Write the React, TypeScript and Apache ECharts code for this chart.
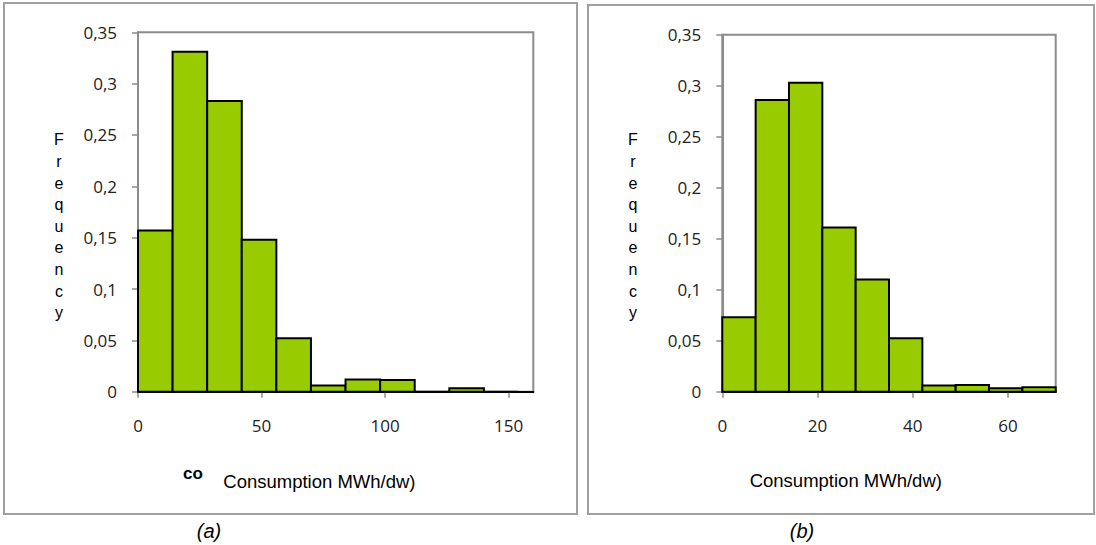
import React, { useEffect, useRef } from "react";
import * as echarts from "echarts";

// Histogram (a): bins of width 14, 0..154
const binEdgesA = [0, 14, 28, 42, 56, 70, 84, 98, 112, 126, 140, 154];
const freqA = [0.157, 0.331, 0.283, 0.148, 0.052, 0.006, 0.012, 0.0115, 0, 0.0034, 0];
const xTicksA = { min: 0, max: 160, interval: 50 };

// Histogram (b): bins of width 7, 0..70
const binEdgesB = [0, 7, 14, 21, 28, 35, 42, 49, 56, 63, 70];
const freqB = [0.073, 0.286, 0.303, 0.161, 0.11, 0.0525, 0.006, 0.0065, 0.0034, 0.0044];
const xTicksB = { min: 0, max: 70, interval: 20 };

const yTicks = { min: 0, max: 0.35, interval: 0.05 };
const yTitle = "Frequency";
const xTitle = "Consumption MWh/dw)";
const panelLabels = ["(a)", "(b)"];

const toBins = (edges: number[], vals: number[]) =>
  vals.map((v, i) => [edges[i], edges[i + 1], v]);

const tickFont = "'Open Sans', sans-serif";
const arial = "'Liberation Sans', Arial, sans-serif";

function makeAxes(gridIndex: number, xt: { min: number; max: number; interval: number }) {
  const x = {
    type: "value",
    gridIndex,
    min: xt.min,
    max: xt.max,
    interval: xt.interval,
    axisLine: { show: true, lineStyle: { color: "#000", width: 2 } },
    axisTick: { show: true, length: 6, lineStyle: { color: "#8c8c8c", width: 1.5 } },
    axisLabel: {
      show: true,
      showMaxLabel: false,
      margin: 25,
      color: "#222",
      fontFamily: tickFont,
      fontSize: 17,
    },
    splitLine: { show: false },
  };
  const y = {
    type: "value",
    gridIndex,
    min: yTicks.min,
    max: yTicks.max,
    interval: yTicks.interval,
    axisLine: { show: true, lineStyle: { color: "#8c8c8c", width: 2 } },
    axisTick: { show: true, length: 6, lineStyle: { color: "#8c8c8c", width: 1.5 } },
    axisLabel: {
      show: true,
      margin: 21,
      color: "#222",
      fontFamily: tickFont,
      fontSize: 17,
      formatter: (v: number) => (v === 0 ? "0" : String(+v.toFixed(2)).replace(".", ",")),
    },
    splitLine: { show: false },
  };
  return { x, y };
}

const renderBin = (params: any, api: any) => {
  const x0 = api.value(0);
  const x1 = api.value(1);
  const v = api.value(2);
  const p0 = api.coord([x0, v]);
  const p1 = api.coord([x1, 0]);
  return {
    type: "rect",
    shape: { x: p0[0], y: p0[1], width: p1[0] - p0[0], height: p1[1] - p0[1] },
    style: { fill: "#99cc00", stroke: "#000", lineWidth: 2 },
  };
};

export default function App() {
  const ref = useRef<HTMLDivElement>(null);

  useEffect(() => {
    if (!ref.current) return;
    const chart = echarts.init(ref.current, undefined, { renderer: "svg" });
    const a = makeAxes(0, xTicksA);
    const b = makeAxes(1, xTicksB);
    const yLetters = yTitle.split("").join("\n");

    const textStyle = (txt: string, font: string, extra: any = {}) => ({
      text: txt,
      font,
      fill: "#000",
      ...extra,
    });

    chart.setOption({
      animation: false,
      backgroundColor: "#fff",
      grid: [
        {
          left: 138,
          top: 32.3,
          width: 395.3,
          height: 359.4,
          show: true,
          borderColor: "#8c8c8c",
          borderWidth: 2,
          backgroundColor: "transparent",
          containLabel: false,
          outerBoundsMode: "none",
        },
        {
          left: 722.3,
          top: 34.8,
          width: 333.4,
          height: 356.9,
          show: true,
          borderColor: "#8c8c8c",
          borderWidth: 2,
          backgroundColor: "transparent",
          containLabel: false,
          outerBoundsMode: "none",
        },
      ],
      xAxis: [a.x, b.x],
      yAxis: [a.y, b.y],
      series: [
        {
          type: "custom",
          xAxisIndex: 0,
          yAxisIndex: 0,
          data: toBins(binEdgesA, freqA),
          encode: { x: [0, 1], y: 2 },
          renderItem: renderBin,
          z: 5,
        },
        {
          type: "custom",
          xAxisIndex: 1,
          yAxisIndex: 1,
          data: toBins(binEdgesB, freqB),
          encode: { x: [0, 1], y: 2 },
          renderItem: renderBin,
          z: 5,
        },
      ],
      graphic: [
        {
          type: "rect",
          shape: { x: 4, y: 3, width: 573, height: 511 },
          style: { fill: "none", stroke: "#a0a0a0", lineWidth: 2 },
          silent: true,
        },
        {
          type: "rect",
          shape: { x: 588, y: 5, width: 506, height: 509 },
          style: { fill: "none", stroke: "#a0a0a0", lineWidth: 2 },
          silent: true,
        },
        {
          type: "text",
          x: 59,
          y: 129,
          style: textStyle(yLetters, `16px ${arial}`, {
            textAlign: "center",
            textVerticalAlign: "top",
            verticalAlign: "top",
            lineHeight: 21.6,
          }),
        },
        {
          type: "text",
          x: 633,
          y: 129,
          style: textStyle(yLetters, `16px ${arial}`, {
            textAlign: "center",
            textVerticalAlign: "top",
            verticalAlign: "top",
            lineHeight: 21.6,
          }),
        },
        {
          type: "text",
          x: 183,
          y: 473,
          style: textStyle("co", `bold 17px ${arial}`, {
            textAlign: "left",
            verticalAlign: "middle",
            textVerticalAlign: "middle",
          }),
        },
        {
          type: "text",
          x: 319.4,
          y: 481,
          style: textStyle(xTitle, `18.5px ${arial}`, {
            textAlign: "center",
            verticalAlign: "middle",
            textVerticalAlign: "middle",
          }),
        },
        {
          type: "text",
          x: 845.8,
          y: 480,
          style: textStyle(xTitle, `18.5px ${arial}`, {
            textAlign: "center",
            verticalAlign: "middle",
            textVerticalAlign: "middle",
          }),
        },
        {
          type: "text",
          x: 209,
          y: 531,
          style: textStyle(panelLabels[0], `italic 20px ${arial}`, {
            textAlign: "center",
            verticalAlign: "middle",
            textVerticalAlign: "middle",
          }),
        },
        {
          type: "text",
          x: 802,
          y: 531,
          style: textStyle(panelLabels[1], `italic 20px ${arial}`, {
            textAlign: "center",
            verticalAlign: "middle",
            textVerticalAlign: "middle",
          }),
        },
      ],
    });
    return () => chart.dispose();
  }, []);

  return (
    <div
      ref={ref}
      style={{ position: "absolute", left: 0, top: 0, width: 1096, height: 545, background: "#fff" }}
    />
  );
}
